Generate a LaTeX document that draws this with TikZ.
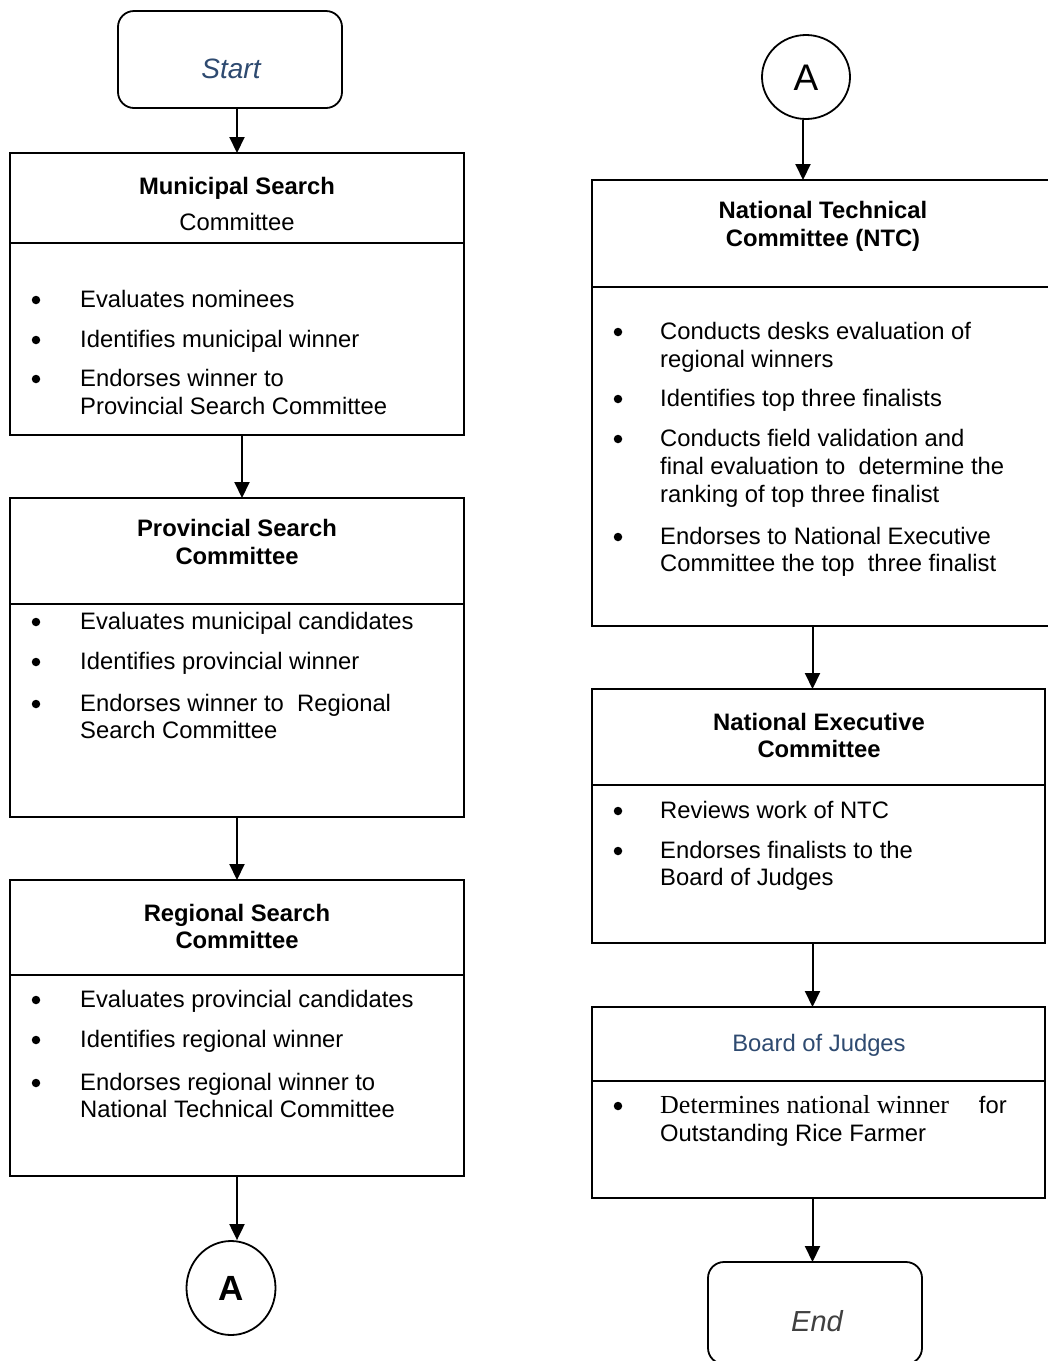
\documentclass[tikz,border=0pt]{standalone}
\usepackage{fontspec}
\setmainfont{Liberation Sans}
\newfontfamily\serifx{Liberation Serif}
\usetikzlibrary{arrows.meta,shapes.geometric}
\definecolor{titleblue}{RGB}{46,74,112}
\definecolor{endgray}{RGB}{64,64,64}
\newcommand\boxpart[5]{\node[boxst, minimum width=#4pt, minimum height=#5pt] (#1) at (#2,#3) {};}
\newcommand\tline[5][]{\node[txt, anchor=base west, #1] (#2) at (#3,#4) {#5};}
\newcommand\bul[3]{\node[bulst] (#1) at (#2,#3-7) {};}
\newcommand\ttline[4]{\node[ttl] (#1) at (#2,#3) {#4};}
\begin{document}
\begin{tikzpicture}[x=1pt,y=-1pt,
  boxst/.style={draw, line width=1.8pt, anchor=north west, inner sep=0pt, outer sep=0pt},
  termst/.style={boxst, rounded corners=16pt},
  arr/.style={line width=2pt, -{Triangle[length=16pt,width=15pt]}},
  txt/.style={inner sep=0pt, font=\fontsize{23.8pt}{28pt}\selectfont},
  ttl/.style={txt, font=\fontsize{23.8pt}{28pt}\selectfont\bfseries, anchor=base},
  bulst/.style={circle, fill=black, inner sep=0pt, minimum size=8.5pt},
  conn/.style={ellipse, draw, line width=1.8pt, inner sep=0pt}
]
\clip (0,0) rectangle (1048,1361);
\fill[white] (0,0) rectangle (1048,1361);

% ---------- left column ----------
\node[termst, minimum width=224pt, minimum height=97pt] (start) at (118,11) {};
\node[txt, anchor=base, font=\fontsize{28pt}{32pt}\selectfont\itshape, text=titleblue] (starttxt) at (231,78) {Start};

\boxpart{munH}{10}{153}{454}{90}
\boxpart{munB}{10}{243}{454}{192}
\ttline{munT1}{237}{194}{Municipal Search}
\node[txt, anchor=base] (munT2) at (237,230) {Committee};
\bul{mb1}{36}{307}\tline{m1}{80}{307}{Evaluates nominees}
\bul{mb2}{36}{347}\tline{m2}{80}{347}{Identifies municipal winner}
\bul{mb3}{36}{386}\tline{m3a}{80}{386}{Endorses winner to}
\tline{m3b}{80}{414}{Provincial Search Committee}

\boxpart{provH}{10}{498}{454}{106}
\boxpart{provB}{10}{604}{454}{213}
\ttline{provT1}{237}{536}{Provincial Search}
\ttline{provT2}{237}{564}{Committee}
\bul{pb1}{36}{629}\tline{p1}{80}{629}{Evaluates municipal candidates}
\bul{pb2}{36}{669}\tline{p2}{80}{669}{Identifies provincial winner}
\bul{pb3}{36}{711}\tline{p3a}{80}{711}{Endorses winner to\ \ Regional}
\tline{p3b}{80}{738}{Search Committee}

\boxpart{regH}{10}{880}{454}{95}
\boxpart{regB}{10}{975}{454}{201}
\ttline{regT1}{237}{921}{Regional Search}
\ttline{regT2}{237}{948}{Committee}
\bul{rb1}{36}{1007}\tline{r1}{80}{1007}{Evaluates provincial candidates}
\bul{rb2}{36}{1047}\tline{r2}{80}{1047}{Identifies regional winner}
\bul{rb3}{36}{1090}\tline{r3a}{80}{1090}{Endorses regional winner to}
\tline{r3b}{80}{1117}{National Technical Committee}

\node[conn, minimum width=89pt, minimum height=94pt] (a1) at (231,1288) {};
\node[txt, anchor=base, font=\fontsize{35pt}{40pt}\selectfont\bfseries] (a1t) at (231,1300) {A};

% ---------- right column ----------
\node[conn, minimum width=88pt, minimum height=84pt] (a2) at (806,77) {};
\node[txt, anchor=base, font=\fontsize{37pt}{42pt}\selectfont] (a2t) at (806,90) {A};

\boxpart{ntcH}{592}{180}{480}{107}
\boxpart{ntcB}{592}{287}{480}{339}
\ttline{ntcT1}{823}{218}{National Technical}
\ttline{ntcT2}{823}{246}{Committee (NTC)}
\bul{nb1}{618}{339}\tline{n1a}{660}{339}{Conducts desks evaluation of}
\tline{n1b}{660}{367}{regional winners}
\bul{nb2}{618}{406}\tline{n2}{660}{406}{Identifies top three finalists}
\bul{nb3}{618}{446}\tline{n3a}{660}{446}{Conducts field validation and}
\tline{n3b}{660}{474}{final evaluation to\ \ determine the}
\tline{n3c}{660}{502}{ranking of top three finalist}
\bul{nb4}{618}{544}\tline{n4a}{660}{544}{Endorses to National Executive}
\tline{n4b}{660}{571}{Committee the top\ \ three finalist}

\boxpart{necH}{592}{689}{453}{96}
\boxpart{necB}{592}{785}{453}{158}
\ttline{necT1}{819}{730}{National Executive}
\ttline{necT2}{819}{757}{Committee}
\bul{eb1}{618}{818}\tline{e1}{660}{818}{Reviews work of NTC}
\bul{eb2}{618}{858}\tline{e2a}{660}{858}{Endorses finalists to the}
\tline{e2b}{660}{885}{Board of Judges}

\boxpart{bojH}{592}{1007}{453}{74}
\boxpart{bojB}{592}{1081}{453}{117}
\node[txt, anchor=base, text=titleblue] (bojT) at (819,1051) {Board of Judges};
\bul{jb1}{618}{1113}\tline{j1a}{660}{1113}{{\serifx\fontsize{26pt}{30pt}\selectfont Determines national winner}\hspace{30pt}for}
\tline{j1b}{660}{1141}{Outstanding Rice Farmer}

\node[termst, minimum width=214pt, minimum height=102pt] (endbox) at (708,1262) {};
\node[txt, anchor=base, font=\fontsize{29pt}{33pt}\selectfont\itshape, text=endgray] (endtxt) at (817,1331) {End};

% ---------- connectors ----------
\draw[arr] (munH.north |- start.south) -- (munH.north);
\draw[arr] ([xshift=5pt]munB.south) -- ([xshift=5pt]provH.north);
\draw[arr] (provB.south) -- (regH.north);
\draw[arr] (regB.south) -- (regB.south |- a1.north);
\draw[arr] ([xshift=-3pt]a2.south) -- ([xshift=-3pt]a2.south |- ntcH.north);
\draw[arr] ([xshift=-6pt]necH.north |- ntcB.south) -- ([xshift=-6pt]necH.north);
\draw[arr] ([xshift=-6pt]necB.south) -- ([xshift=-6pt]bojH.north);
\draw[arr] ([xshift=-6pt]bojB.south) -- ([xshift=-6pt]bojB.south |- endbox.north);
\end{tikzpicture}
\end{document}
